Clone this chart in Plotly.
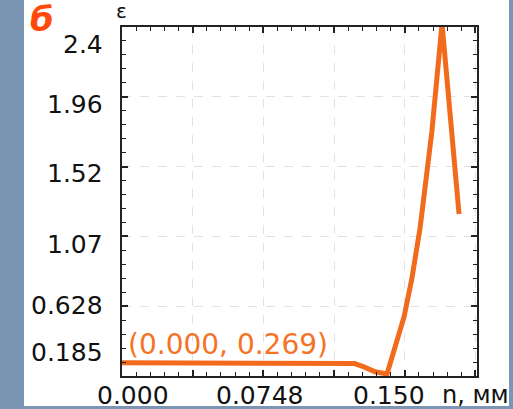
import plotly.graph_objects as go

# data
n_mm = [0.0, 0.1195, 0.1230, 0.1280, 0.1339, 0.1402, 0.1492, 0.1533, 0.1577, 0.1639, 0.1693, 0.1783]
eps = [0.269, 0.269, 0.264, 0.243, 0.212, 0.198, 0.560, 0.800, 1.125, 1.734, 2.420, 1.213]

y_tick_vals = [0.185, 0.628, 1.071, 1.514, 1.957, 2.4]
y_tick_text = ["0.185", "0.628", "1.07", "1.52", "1.96", "2.4"]
x_tick_vals = [0.0, 0.0748, 0.1496]
x_tick_text = ["0.000", "0.0748", "0.150"]
label_text = "(0.000, 0.269)"

# layout constants
FONT = "DejaVu Sans"
ORANGE = "#f26b1d"
L, R, T, B = 122, 36, 27, 33
W, H = 513, 409
PW, PH = W - L - R, H - T - B

def px_x(px):
    return (px - L) / PW

def px_y(py):
    return (H - B - py) / PH

fig = go.Figure()
fig.add_trace(go.Scatter(x=n_mm, y=eps, mode="lines",
                         line=dict(color=ORANGE, width=5),
                         cliponaxis=False, hoverinfo="skip"))

axis_common = dict(showline=True, linecolor="#222", linewidth=1.5, mirror="ticks",
                   ticks="inside", ticklen=6, tickwidth=1.5, tickcolor="#222",
                   showticklabels=False, showgrid=True, gridcolor="#e2e2e2",
                   griddash="dash", gridwidth=1, zeroline=False)

fig.update_xaxes(range=[0, 0.1878], tickmode="linear", tick0=0, dtick=0.0374,
                 minor=dict(dtick=0.00748, tick0=0, ticks="inside", ticklen=4,
                            tickwidth=1, tickcolor="#222", showgrid=False),
                 **axis_common)
fig.update_yaxes(range=[0.185, 2.4], tickmode="linear", tick0=0.185, dtick=0.443,
                 minor=dict(dtick=0.0886, tick0=0.185, ticks="inside", ticklen=4,
                            tickwidth=1, tickcolor="#222", showgrid=False),
                 **axis_common)

# white card on blue background
fig.add_shape(type="rect", xref="paper", yref="paper",
              x0=px_x(24), x1=px_x(509), y0=px_y(406), y1=px_y(-5),
              fillcolor="white", line=dict(width=0), layer="below")

ann = []
y_shifts = [23.5, 1, -8, -7, -8, -17.5]
for v, t, s in zip(y_tick_vals, y_tick_text, y_shifts):
    ann.append(dict(xref="paper", x=0, xanchor="right", xshift=-17,
                    yref="y", y=v, yanchor="middle", yshift=s,
                    text=t, showarrow=False,
                    font=dict(family=FONT, size=25, color="#111")))
x_shifts = [11, -4, -16]
for v, t, s in zip(x_tick_vals, x_tick_text, x_shifts):
    ann.append(dict(xref="x", x=v, xanchor="center", xshift=s,
                    yref="paper", y=0, yanchor="middle", yshift=-19,
                    text=t, showarrow=False,
                    font=dict(family=FONT, size=25, color="#111")))
ann.append(dict(xref="paper", x=px_x(475), xanchor="center",
                yref="paper", y=0, yanchor="middle", yshift=-19,
                text="n, мм", showarrow=False,
                font=dict(family=FONT, size=24, color="#111")))
ann.append(dict(xref="paper", x=px_x(121), xanchor="center",
                yref="paper", y=1, yanchor="middle", yshift=16,
                text="ε", showarrow=False,
                font=dict(family=FONT, size=20, color="#111")))
ann.append(dict(xref="paper", x=px_x(42), xanchor="center",
                yref="paper", y=1, yanchor="middle", yshift=8,
                text="<b><i>б</i></b>", showarrow=False,
                font=dict(family=FONT, size=34, color="#ff4a0c")))
ann.append(dict(xref="x", x=n_mm[0], xanchor="left", xshift=4,
                yref="y", y=eps[0], yanchor="middle", yshift=18,
                text=label_text, showarrow=False,
                font=dict(family=FONT, size=28, color="#f47326")))

fig.update_layout(width=W, height=H, margin=dict(l=L, r=R, t=T, b=B),
                  paper_bgcolor="#7a96b4", plot_bgcolor="white",
                  showlegend=False, annotations=ann,
                  font=dict(family=FONT))

fig.write_html("out.html")
